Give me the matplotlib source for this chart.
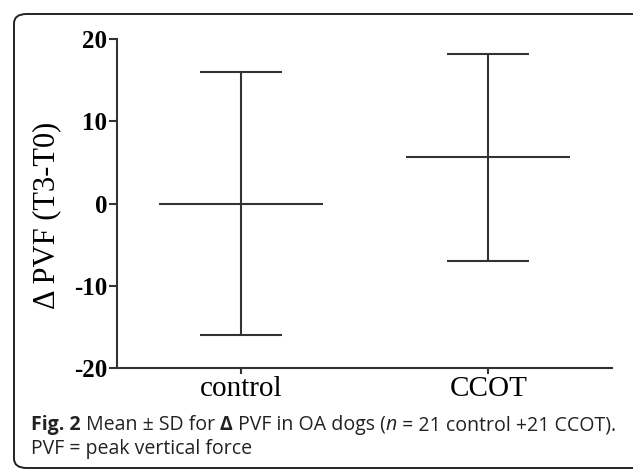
import matplotlib
matplotlib.use('Agg')
import matplotlib.pyplot as plt
from matplotlib.patches import FancyBboxPatch

groups = ['control', 'CCOT']
means = [0.0, 5.6]
sds = [16.0, 12.6]
yticks = [-20, -10, 0, 10, 20]

ink = '#333333'

fig = plt.figure(figsize=(6.33, 4.70), dpi=100)

# rounded frame round the figure panel
frame = FancyBboxPatch((14 / 633, 2 / 470), 640 / 633, 454 / 470,
                       boxstyle='round,pad=0,rounding_size=0.02',
                       transform=fig.transFigure, fill=False,
                       edgecolor='#222222', linewidth=1.4, clip_on=False)
fig.patches.append(frame)

ax = fig.add_axes([117 / 633, 1 - 368 / 470, (612 - 117) / 633, (368 - 39) / 470])

xs = list(range(len(groups)))
for x, m, s in zip(xs, means, sds):
    ax.plot([x, x], [m - s, m + s], color=ink, lw=1.5, solid_capstyle='butt')
    ax.plot([x - 0.166, x + 0.166], [m + s, m + s], color=ink, lw=1.5, solid_capstyle='butt')
    ax.plot([x - 0.166, x + 0.166], [m - s, m - s], color=ink, lw=1.5, solid_capstyle='butt')
    ax.plot([x - 0.332, x + 0.332], [m, m], color=ink, lw=1.5, solid_capstyle='butt')

ax.set_xlim(-0.5, 1.5)
ax.set_ylim(-20, 20)
ax.spines['top'].set_visible(False)
ax.spines['right'].set_visible(False)
for sp in ('left', 'bottom'):
    ax.spines[sp].set_linewidth(1.5)
    ax.spines[sp].set_color(ink)

ax.set_yticks(yticks)
ax.set_yticklabels([str(v) for v in yticks], family='Liberation Serif',
                   fontweight='bold', fontsize=18)
ax.set_xticks(xs)
ax.set_xticklabels(groups, family='Liberation Serif', fontsize=21)
ax.tick_params(axis='y', length=6, width=1.5, color=ink, pad=1)
ax.tick_params(axis='x', length=4, width=1.5, color=ink, pad=2)

ax.set_ylabel('\u0394 PVF (T3-T0)', family='Liberation Serif', fontsize=22)
ax.yaxis.set_label_coords(-0.113, 0.465)

# caption: mixed styles, laid out piece by piece
pieces = [('Fig. 2', 'bold', 'normal'), (' Mean \u00b1 SD for ', 'normal', 'normal'),
          ('\u0394', 'bold', 'normal'), (' PVF in OA dogs (', 'normal', 'normal'),
          ('n', 'normal', 'italic'), (' = 21 control +21 CCOT).', 'normal', 'normal')]
line2 = 'PVF = peak vertical force'

renderer = fig.canvas.get_renderer()
x0 = 31
target = 612 - 31
base1 = 430
base2 = 454


def lay(fs, draw):
    x = x0
    for txt, wt, st in pieces:
        t = fig.text(x / 633, 1 - base1 / 470, txt, fontsize=fs, family='Open Sans',
                     fontweight=wt, style=st, va='baseline', color='#222222')
        w = t.get_window_extent(renderer).width
        if not draw:
            t.remove()
        x += w
    return x - x0


# pick the caption size so the first line spans the same width as the original
fs = 13.0
w = lay(fs, False)
fs = fs * target / w
lay(fs, True)
fig.text(x0 / 633, 1 - base2 / 470, line2, fontsize=fs, family='Open Sans',
         va='baseline', color='#222222')

fig.savefig('out.png', dpi=100)
